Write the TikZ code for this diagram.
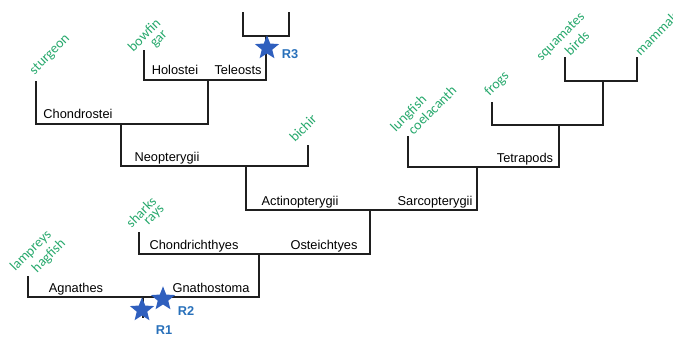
\documentclass[tikz,border=0pt]{standalone}
\usepackage{fontspec}
\setmainfont{Liberation Sans}
\newfontfamily\taxafont{Carlito}
\usetikzlibrary{shapes.geometric}
\definecolor{taxagreen}{RGB}{38,168,108}
\definecolor{starblue}{RGB}{47,95,190}
\definecolor{tagblue}{RGB}{40,112,186}
\tikzset{
  branch/.style={line width=1.4pt, draw=black!88},
  clade/.style={inner sep=0.75pt, anchor=base, font=\fontsize{9.6}{11}\selectfont},
  taxon/.style={inner sep=0.75pt, rotate=45, text=taxagreen, font=\taxafont\fontsize{10.5}{12}\selectfont},
  rstar/.style={star, star points=5, star point ratio=2.3, fill=starblue, draw=none, minimum size=19pt, inner sep=0pt},
  rtag/.style={inner sep=0.75pt, text=tagblue, font=\bfseries\fontsize{9.6}{11}\selectfont}
}
\begin{document}
\begin{tikzpicture}[x=0.75pt,y=0.75pt,yscale=-1,xscale=1]
\useasboundingbox (0,0) rectangle (673,336);
\coordinate (teleA) at (243,12);
\coordinate (teleB) at (289,12);
\coordinate (teleN) at (266,36);
\coordinate (holo) at (144,50);
\coordinate (holoN) at (208,80);
\coordinate (stur) at (36,81);
\coordinate (chonN) at (121,124);
\coordinate (bich) at (308,145);
\coordinate (neoN) at (246,166);
\coordinate (actN) at (370,210);
\coordinate (lung) at (408,136);
\coordinate (tetN) at (477,167);
\coordinate (frog) at (492,102);
\coordinate (frogN) at (559,125);
\coordinate (squa) at (565,57);
\coordinate (mamm) at (637,57);
\coordinate (amnN) at (603,81);
\coordinate (shark) at (139,232);
\coordinate (gnaN) at (259,254);
\coordinate (lamp) at (28,276);
\coordinate (root) at (143,297);
\coordinate (base) at (143,318);
\draw [branch] (teleA) |- (teleN) -| (teleB);
\draw [branch] (holo) |- (holoN) -| (teleN);
\draw [branch] (stur) |- (chonN) -| (holoN);
\draw [branch] (chonN) |- (neoN) -| (bich);
\draw [branch] (neoN) |- (actN) -| (tetN);
\draw [branch] (lung) |- (tetN) -| (frogN);
\draw [branch] (frog) |- (frogN) -| (amnN);
\draw [branch] (squa) |- (amnN) -| (mamm);
\draw [branch] (shark) |- (gnaN) -| (actN);
\draw [branch] (lamp) |- (root) -| (gnaN);
\draw [branch] (root) -- (base);
\node [clade] (holostei) at (175,74) {Holostei};
\node [clade] (teleosts) at (238,74) {Teleosts};
\node [clade] (chondrostei) at (78,118) {Chondrostei};
\node [clade] (neopterygii) at (167,161) {Neopterygii};
\node [clade] (actino) at (300,205) {Actinopterygii};
\node [clade] (sarco) at (435,205) {Sarcopterygii};
\node [clade] (tetrapods) at (525,162) {Tetrapods};
\node [clade] (chondrich) at (194,249) {Chondrichthyes};
\node [clade] (osteich) at (324,249) {Osteichtyes};
\node [clade] (agnathes) at (76,292) {Agnathes};
\node [clade] (gnathostoma) at (211,292) {Gnathostoma};
\node [taxon] (sturgeon) at (50,55) {sturgeon};
\node [taxon] (bowfin) at (144,35) {bowfin};
\node [taxon] (gar) at (160,40) {gar};
\node [taxon] (bichir) at (303,128) {bichir};
\node [taxon] (lungfish) at (409,114) {lungfish};
\node [taxon] (coelacanth) at (432,110) {coelacanth};
\node [taxon] (frogs) at (497,84) {frogs};
\node [taxon] (squamates) at (561,37) {squamates};
\node [taxon] (birds) at (577,43) {birds};
\node [taxon] (mammals) at (657,33) {mammals};
\node [taxon] (sharks) at (141,212) {sharks};
\node [taxon] (rays) at (155,216) {rays};
\node [taxon] (lampreys) at (31,251) {lampreys};
\node [taxon] (hagfish) at (49,256) {hagfish};
\node [rstar] (r1) at (142,310) {};
\node [rstar] (r2) at (163,299) {};
\node [rstar] (r3) at (267,48) {};
\node [rtag] (r1tag) at (164,330) {R1};
\node [rtag] (r2tag) at (186,311) {R2};
\node [rtag] (r3tag) at (290,54) {R3};
\end{tikzpicture}
\end{document}
